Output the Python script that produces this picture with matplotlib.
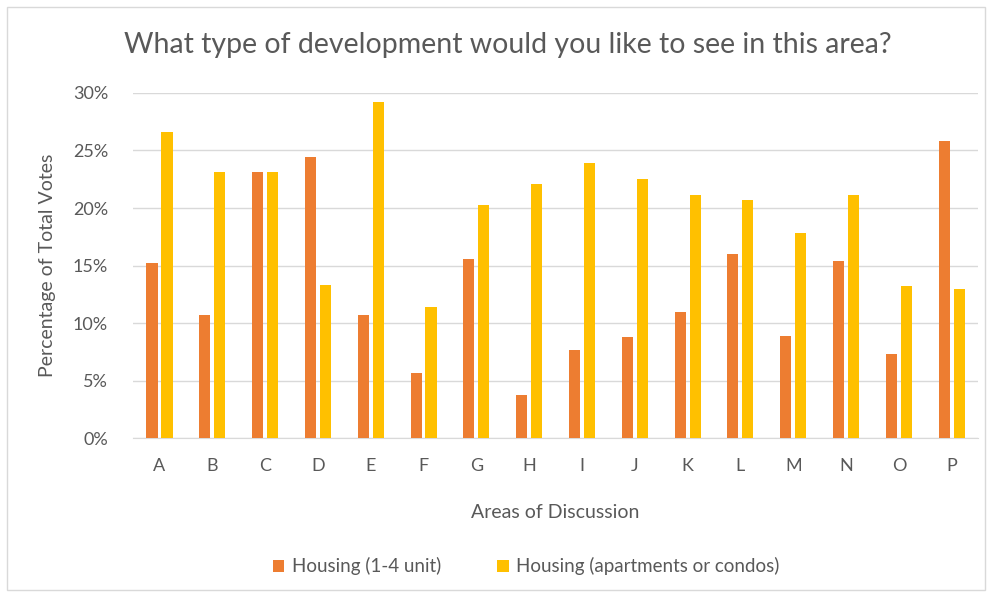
import matplotlib.pyplot as plt
import numpy as np

plt.rcParams["font.family"] = ["Lato", "DejaVu Sans"]

# Data (percent of total votes)
areas = ["A", "B", "C", "D", "E", "F", "G", "H", "I", "J", "K", "L", "M", "N", "O", "P"]
housing_1_4 = [15.2, 10.7, 23.1, 24.4, 10.7, 5.65, 15.6, 3.7, 7.65, 8.8, 11.0, 16.0, 8.9, 15.4, 7.3, 25.8]
housing_apts = [26.6, 23.1, 23.1, 13.3, 29.2, 11.4, 20.3, 22.1, 23.9, 22.5, 21.1, 20.7, 17.8, 21.1, 13.2, 13.0]
series_names = ["Housing (1-4 unit)", "Housing (apartments or condos)"]
yticks = [0, 5, 10, 15, 20, 25, 30]

text_color = "#595959"
orange = "#ED7D31"
yellow = "#FFC000"

fig = plt.figure(figsize=(9.93, 5.96), dpi=100, facecolor="white")
ax = fig.add_axes([0.134, 0.265, 0.851, 0.579])

x = np.arange(len(areas))
w = 0.21
ax.bar(x - 0.142, housing_1_4, width=w, color=orange, label=series_names[0], zorder=3)
ax.bar(x + 0.142, housing_apts, width=w, color=yellow, label=series_names[1], zorder=3)

ax.set_xlim(-0.5, len(areas) - 0.5)
ax.set_ylim(0, 30)
ax.set_yticks(yticks)
ax.set_yticklabels(["{}%".format(t) for t in yticks])
ax.set_xticks(x)
ax.set_xticklabels(areas)
ax.tick_params(axis="both", length=0, colors=text_color, labelsize=13)
ax.tick_params(axis="y", pad=18)
ax.tick_params(axis="x", pad=14)
ax.yaxis.grid(True, color="#d9d9d9", linewidth=1, zorder=0)
for side in ["top", "right", "left"]:
    ax.spines[side].set_visible(False)
ax.spines["bottom"].set_color("#d9d9d9")

ax.set_xlabel("Areas of Discussion", color=text_color, fontsize=14, labelpad=22)
ax.set_ylabel("Percentage of Total Votes", color=text_color, fontsize=14, labelpad=12)
fig.text(0.511, 0.924, "What type of development would you like to see in this area?",
         ha="center", va="center", fontsize=20.5, color=text_color)

leg = fig.legend(loc="center", bbox_to_anchor=(0.53, 0.05), ncol=2, frameon=False,
                 fontsize=13.5, handlelength=0.6, handleheight=0.6, handletextpad=0.4,
                 columnspacing=3.0)
for t in leg.get_texts():
    t.set_color(text_color)

# light frame around the chart
fig.patches.append(plt.Rectangle((0.007, 0.01), 0.985, 0.978, transform=fig.transFigure,
                                 fill=False, edgecolor="#d9d9d9", linewidth=1))

fig.savefig("out.png", dpi=100)
